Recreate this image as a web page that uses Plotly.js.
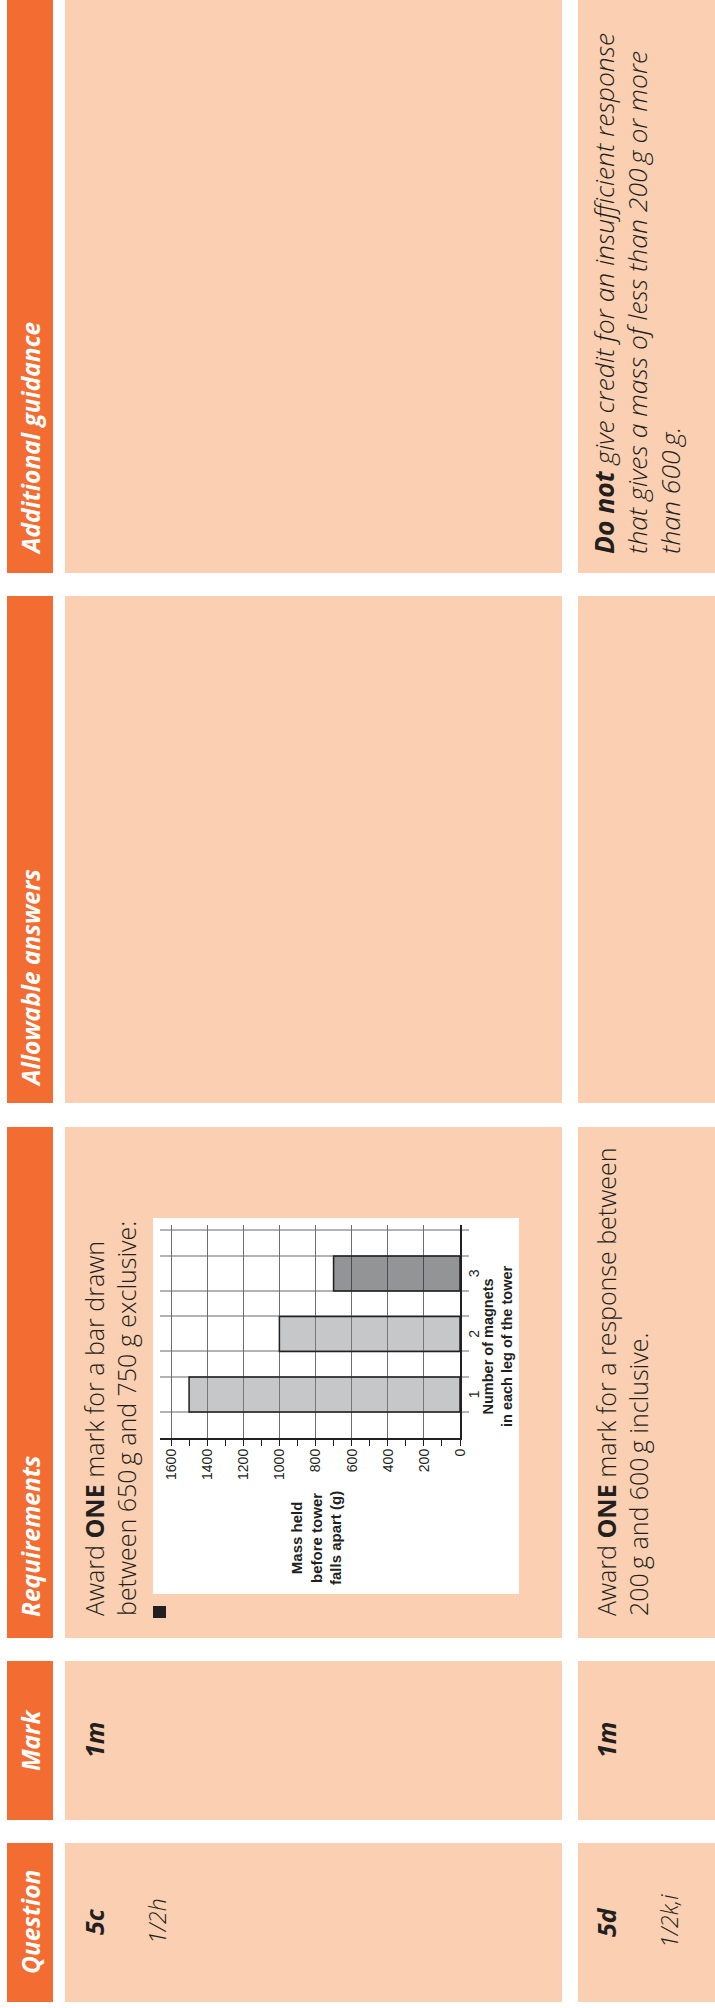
<!DOCTYPE html>
<html>
<head>
<meta charset="utf-8">
<script src="https://cdn.plot.ly/plotly-3.0.1.min.js"></script>
<style>
html,body{margin:0;padding:0;width:715px;height:2008px;overflow:hidden;background:#fff}
#rot{position:absolute;left:0;top:0;width:2008px;height:715px;transform-origin:0 0;transform:translate(0px,2008px) rotate(-90deg);}
</style>
</head>
<body>
<div id="rot"><div id="chart"></div></div>
<script>
// ---- data ----
const magnets = [1, 2, 3];
const magnetLabels = ['1', '2', '3'];
const massHeld = [1500, 1000, 700];
const massTicks = [0, 200, 400, 600, 800, 1000, 1200, 1400, 1600];
const headers = ['Question', 'Mark', 'Requirements', 'Allowable answers', 'Additional guidance'];
const questions = ['5c', '5d'];
const references = ['1/2h', '1/2k,i'];
const marks = ['1m', '1m'];
const req5c = ['Award <b>ONE</b> mark for a bar drawn', 'between 650\u2009g and 750 g exclusive:'];
const req5d = ['Award <b>ONE</b> mark for a response between', '200\u2009g and 600\u2009g inclusive.'];
const guide5d = ['<b>Do not</b> give credit for an insufficient response', 'that gives a mass of less than 200\u2009g or more', 'than 600\u2009g.'];
const yTitle = 'Mass held<br>before tower<br>falls apart (g)';
const xTitle = 'Number of magnets<br>in each leg of the tower';

// ---- page geometry (landscape, later rotated) ----
const W = 2008, H = 715;
const px = X => X / W, py = Y => 1 - Y / H;
const ORANGE = '#F36C32', PEACH = '#FBCFB1', INK = '#231F20';
const SANS = 'Open Sans, Noto Sans, sans-serif';
const ARIAL = 'Liberation Sans, Arial, sans-serif';
const cols = [[6,165],[188,347],[370,881],[905,1412],[1435,2012]];
const rows = [[7,53],[65,562],[578,720]];

const shapes = [];
rows.forEach((r, ri) => cols.forEach(c => shapes.push({
  type:'rect', xref:'paper', yref:'paper', layer:'below',
  x0:px(c[0]), x1:px(c[1]), y0:py(r[1]), y1:py(r[0]),
  fillcolor: ri === 0 ? ORANGE : PEACH, line:{width:0}
})));
// white chart panel and bullet
shapes.push({type:'rect', xref:'paper', yref:'paper', layer:'below',
  x0:px(414), x1:px(790), y0:py(519), y1:py(153), fillcolor:'#ffffff', line:{width:0}});
shapes.push({type:'rect', xref:'paper', yref:'paper', layer:'below',
  x0:px(390), x1:px(402), y0:py(166), y1:py(153), fillcolor:INK, line:{width:0}});

const annotations = [];
function ann(text, X, Y, o) {
  annotations.push(Object.assign({
    text, xref:'paper', yref:'paper', x:px(X), y:py(Y), showarrow:false,
    xanchor:'left', yanchor:'middle', align:'left',
    font:{family:SANS, size:25, color:INK, weight:300}
  }, o));
}
const hdrFont = {family:SANS, size:24.5, color:'#ffffff', weight:700, style:'italic'};
const hx = [[85.5,'center'],[267.5,'center'],[389,'left'],[919,'left'],[1451,'left']];
headers.forEach((h, i) => ann(h, hx[i][0], 30, {xanchor:hx[i][1], font:hdrFont}));

const boldIt = {family:SANS, size:25, color:INK, weight:700, style:'italic'};
const lightIt = {family:SANS, size:23, color:INK, weight:300, style:'italic'};
const rowY = [94, 606];
questions.forEach((q, i) => {
  ann(q, 86, rowY[i], {xanchor:'center', font:boldIt});
  ann(references[i], 87, rowY[i] + 63, {xanchor:'center', font:lightIt});
  ann(marks[i], 268, rowY[i], {xanchor:'center', font:boldIt});
});
req5c.forEach((t, i) => ann(t, 390, 94 + i * 31.5));
req5d.forEach((t, i) => ann(t, 390, 606 + i * 31.5));
guide5d.forEach((t, i) => ann(t, 1452, 604 + i * 33,
  {font:{family:SANS, size:26.5, color:INK, weight:300, style:'italic'}}));

// chart axis titles
ann(yTitle, 470, 316, {xanchor:'center', align:'center',
  font:{family:ARIAL, size:15, color:INK, weight:700}});
ann(xTitle, 661, 497, {xanchor:'center', align:'center',
  font:{family:ARIAL, size:14.5, color:INK, weight:700}});

// bar edges for the light vertical grid
const barW = 0.578;
const edges = [];
magnets.forEach(m => edges.push(m - barW/2, m + barW/2));
edges.push(magnets[magnets.length-1] + 1 - barW/2);

const trace = {
  type:'bar', x:magnets, y:massHeld, width:barW,
  marker:{color:['rgba(128,130,133,0.45)','rgba(128,130,133,0.45)','rgba(40,42,46,0.5)'],
          line:{color:INK, width:1.5}},
  hoverinfo:'skip', showlegend:false
};

const layout = {
  width:W, height:H, margin:{l:0, r:0, t:0, b:0},
  paper_bgcolor:'#ffffff', plot_bgcolor:'#ffffff',
  shapes, annotations,
  xaxis:{
    domain:[px(570), px(783)], range:[0.281, 3.80],
    tickmode:'array', tickvals:magnets, ticktext:magnetLabels,
    ticks:'', showgrid:false, zeroline:false,
    showline:true, linecolor:INK, linewidth:2,
    tickfont:{family:ARIAL, size:14, color:INK},
    minor:{tickmode:'array', tickvals:edges, showgrid:true, gridcolor:'#b3b3b3', gridwidth:2,
           ticks:'outside', ticklen:7, tickcolor:'#b3b3b3', tickwidth:2},
    fixedrange:true
  },
  yaxis:{
    domain:[py(460), py(160)], range:[0, 1661],
    tickmode:'array', tickvals:massTicks,
    ticks:'outside', ticklen:6, tickwidth:1, tickcolor:INK,
    showgrid:true, gridcolor:'#6d6e70', gridwidth:1,
    zeroline:false, showline:true, linecolor:INK, linewidth:2,
    tickfont:{family:ARIAL, size:14, color:INK},
    minor:{dtick:100, ticks:'outside', ticklen:6, tickcolor:INK, tickwidth:1, showgrid:false},
    fixedrange:true
  }
};

Plotly.newPlot('chart', [trace], layout, {displayModeBar:false, staticPlot:true});
</script>
</body>
</html>
